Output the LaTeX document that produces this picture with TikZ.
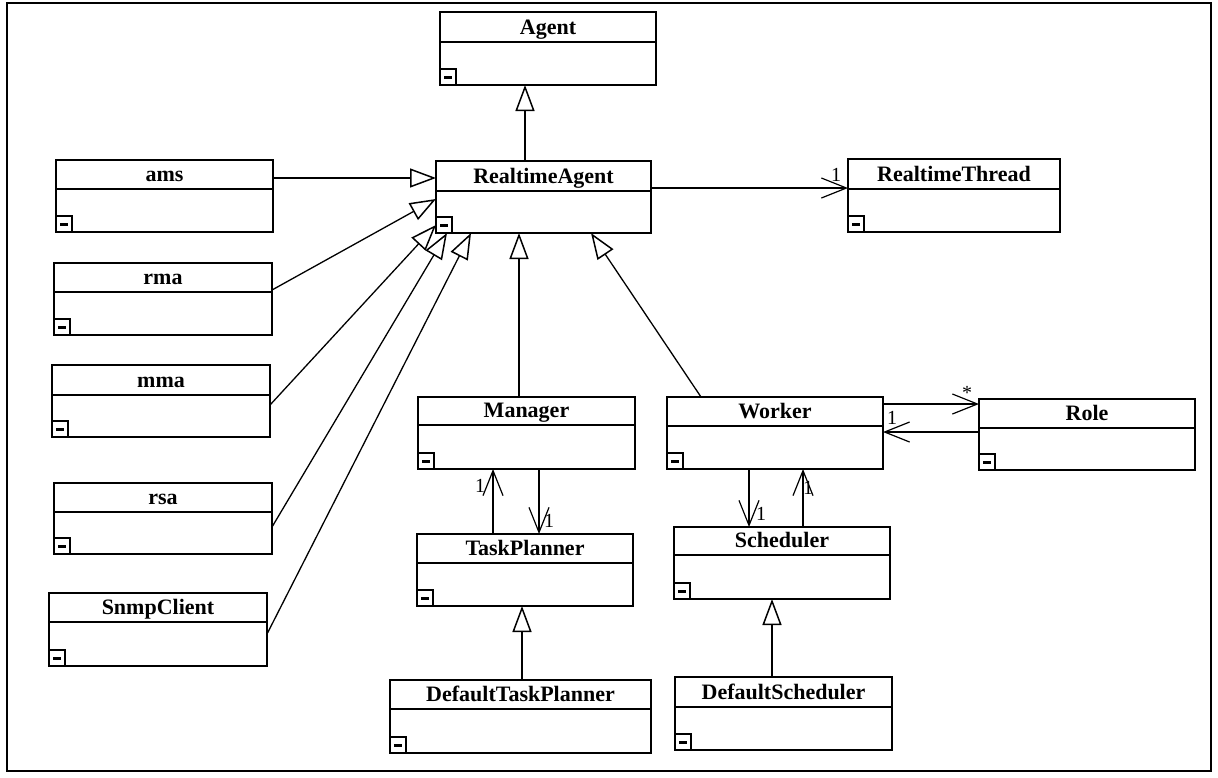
\documentclass[tikz,border=0pt]{standalone}
\usepackage{fontspec}
\setmainfont{Liberation Serif}
\usetikzlibrary{arrows.meta}

\tikzset{
  clsframe/.style={draw, line width=1.8pt, fill=white, rectangle, inner sep=0pt, outer sep=0pt},
  clsline/.style={line width=1.6pt},
  clstitle/.style={font=\bfseries\fontsize{22}{26}\selectfont, inner sep=0pt, anchor=base},
  minusbox/.style={draw, line width=1.4pt},
  gen/.style={line width=1.3pt, -{Triangle[open, length=26pt, width=19pt, line width=1.5pt]}},
  assoc/.style={line width=1.3pt, -{Straight Barb[length=25pt, width=20pt, line width=1.2pt]}},
  mult/.style={font=\fontsize{20}{22}\selectfont, inner sep=0pt, anchor=base},
}

% class box: name, x1, y1, x2, y2, separator y, title
\newcommand{\umlclass}[7]{%
  \node[clsframe, minimum width={#4-#2}, minimum height={#5-#3}, anchor=north west] (#1) at (#2,#3) {};
  \draw[clsline] (#1.west |- 0,#6) -- (#1.east |- 0,#6);
  \draw[minusbox] (#1.south west) rectangle ++(16,-16);
  \draw[line width=3pt] ([shift={(4,-8)}]#1.south west) -- ++(8,0);
  \node[clstitle] (#1-title) at ({(#2+#4)/2},{#6-8}) {#7};
}

\begin{document}
\begin{tikzpicture}[x=1pt, y=-1pt]
\useasboundingbox (0,0) rectangle (1218,777);
\fill[white] (0,0) rectangle (1218,777);
\draw[line width=2.2pt] (7,3) rectangle (1211,771);

\umlclass{agent}{440}{12}{656}{85}{42}{Agent}
\umlclass{rta}{436}{161}{651}{233}{191}{RealtimeAgent}
\umlclass{rtt}{848}{159}{1060}{232}{189}{RealtimeThread}
\umlclass{ams}{56}{160}{273}{232}{189}{ams}
\umlclass{rma}{54}{263}{272}{335}{292}{rma}
\umlclass{mma}{52}{365}{270}{437}{395}{mma}
\umlclass{rsa}{54}{483}{272}{554}{512}{rsa}
\umlclass{snmp}{49}{593}{267}{666}{622}{SnmpClient}
\umlclass{mgr}{418}{397}{635}{469}{425}{Manager}
\umlclass{wkr}{667}{397}{883}{469}{426}{Worker}
\umlclass{role}{979}{399}{1195}{470}{428}{Role}
\umlclass{tp}{417}{534}{633}{606}{563}{TaskPlanner}
\umlclass{sch}{674}{527}{890}{599}{555}{Scheduler}
\umlclass{dtp}{390}{680}{651}{753}{709}{DefaultTaskPlanner}
\umlclass{dsch}{675}{677}{892}{750}{707}{DefaultScheduler}

% generalisations
\draw[gen] (rta.north -| 525,0) -- (agent.south -| 525,0);
\draw[gen] (ams.east |- 0,178) -- (rta.west |- 0,178);
\draw[gen] (rma.east |- 0,290) -- (rta.west |- 0,199);
\draw[gen] (mma.east |- 0,405) -- (rta.west |- 0,225);
\draw[gen] (rsa.east |- 0,527) -- (rta.south -| 447,0);
\draw[gen] (snmp.east |- 0,634) -- (rta.south -| 471,0);
\draw[gen] (mgr.north -| 519,0) -- (rta.south -| 519,0);
\draw[gen] (wkr.north -| 701,0) -- (rta.south -| 591,0);
\draw[gen] (dtp.north -| 522,0) -- (tp.south -| 522,0);
\draw[gen] (dsch.north -| 772,0) -- (sch.south -| 772,0);

% associations
\draw[assoc] (rta.east |- 0,188) -- (rtt.west |- 0,188);
\draw[assoc] (tp.north -| 493,0) -- (mgr.south -| 493,0);
\draw[assoc] (mgr.south -| 539,0) -- (tp.north -| 539,0);
\draw[assoc] (wkr.south -| 749,0) -- (sch.north -| 749,0);
\draw[assoc] (sch.north -| 803,0) -- (wkr.south -| 803,0);
\draw[assoc] (wkr.east |- 0,404) -- (role.west |- 0,404);
\draw[assoc] (role.west |- 0,432) -- (wkr.east |- 0,432);

% multiplicities
\node[mult] (m-rtt) at (836,181) {1};
\node[mult] (m-mgr) at (480,492) {1};
\node[mult] (m-tp) at (549,527) {1};
\node[mult] (m-sch) at (761,520) {1};
\node[mult] (m-wkr) at (808,494) {1};
\node[mult] (m-role) at (967,399) {*};
\node[mult] (m-wkr2) at (892,424) {1};
\end{tikzpicture}
\end{document}
